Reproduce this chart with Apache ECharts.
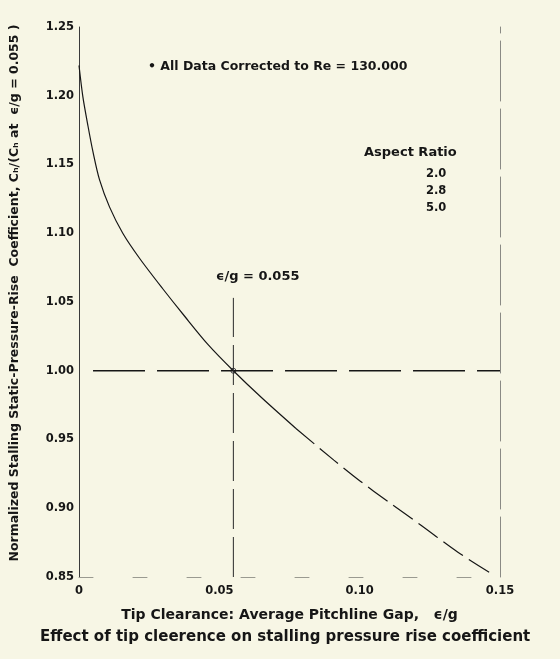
<!DOCTYPE html>
<html>
<head>
<meta charset="utf-8">
<script src="https://cdn.jsdelivr.net/npm/echarts@6/dist/echarts.min.js"></script>
<style>
	html, body { margin: 0; padding: 0; background: #f7f6e5; }
	#main { width: 560px; height: 659px; }
</style>
</head>
<body>
<div id="main"></div>
<script>
// tip clearance (eps/g) and normalized stalling pressure-rise coefficient
var clearance = [0, 0.0014, 0.0032, 0.005, 0.0073, 0.0109, 0.0156, 0.0215, 0.0297, 0.0375, 0.046, 0.055, 0.065, 0.0773, 0.0908, 0.100, 0.110, 0.1216, 0.135, 0.1465];
var ratio     = [1.222, 1.199, 1.178, 1.159, 1.139, 1.119, 1.100, 1.082, 1.060, 1.040, 1.019, 1.000, 0.9805, 0.958, 0.935, 0.920, 0.905, 0.888, 0.868, 0.853];
var solidUntil = 0.0773;  // curve drawn solid up to here, broken after

// reference lines
var refGap = 0.055;
var refRatio = 1.00;
var refHLineX = [0.005, 0.15];
var refVLineY = [0.85, 1.053];

var yTicks = [0.85, 1.25, 0.05];
var xTicks = [0, 0.15, 0.05];
var aspectRatios = ['2.0', '2.8', '5.0'];

var ink = '#161616';
var font = 'DejaVu Sans';

var solidPart = [], brokenPart = [];
for (var i = 0; i < clearance.length; i++) {
	if (clearance[i] <= solidUntil) solidPart.push([clearance[i], ratio[i]]);
	if (clearance[i] >= solidUntil) brokenPart.push([clearance[i], ratio[i]]);
}

var chart = echarts.init(document.getElementById('main'));
var option = {
	backgroundColor: '#f7f6e5',
	animation: false,
	textStyle: { fontFamily: font },
	grid: { left: 76, right: 60, top: 27, bottom: 82 },
	title: {
		text: 'Effect of tip cleerence on stalling pressure rise coefficient',
		left: 35,
		bottom: 9,
		textStyle: { fontFamily: font, fontSize: 15, fontWeight: 'bold', color: ink }
	},
	xAxis: {
		type: 'value',
		min: xTicks[0], max: xTicks[1], interval: xTicks[2],
		name: 'Tip Clearance: Average Pitchline Gap,   ϵ/g',
		nameLocation: 'middle',
		nameGap: 31,
		nameTextStyle: { fontSize: 14, fontWeight: 'bold', color: ink },
		axisLine: { lineStyle: { color: '#9a9a90', width: 1, type: [14, 40] } },
		axisTick: { show: false },
		splitLine: { show: false },
		axisLabel: {
			margin: 8, fontSize: 11.5, fontWeight: 'bold', color: ink,
			formatter: function (v) { return v === 0 ? '0' : v.toFixed(2); }
		}
	},
	yAxis: [{
		type: 'value',
		min: yTicks[0], max: yTicks[1], interval: yTicks[2],
		name: 'Normalized Stalling Static-Pressure-Rise  Coefficient, Cₕ/(Cₕ at  ϵ/g = 0.055 )',
		nameLocation: 'middle',
		nameGap: 58,
		nameTextStyle: { fontSize: 12.5, fontWeight: 'bold', color: ink, padding: [0, 0, 0, 18] },
		axisLine: { show: true, lineStyle: { color: '#3a3a3a', width: 1 } },
		axisTick: { show: false },
		splitLine: { show: false },
		axisLabel: {
			margin: 5, fontSize: 11.5, fontWeight: 'bold', color: ink,
			formatter: function (v) { return v.toFixed(2); }
		}
	}, {
		type: 'value',
		position: 'right',
		min: yTicks[0], max: yTicks[1], interval: yTicks[2],
		axisLine: { show: true, lineStyle: { color: '#8a8a84', width: 1, type: [60, 8] } },
		axisTick: { show: false },
		axisLabel: { show: false },
		splitLine: { show: false }
	}],
	graphic: [
		{ type: 'text', left: 148, top: 60,
		  style: { text: '• All Data Corrected to Re = 130.000', font: 'bold 12.5px ' + font, fill: ink } },
		{ type: 'text', left: 364, top: 146,
		  style: { text: 'Aspect Ratio', font: 'bold 13px ' + font, fill: ink } },
		{ type: 'text', left: 426, top: 166,
		  style: { text: aspectRatios.join('\n'), font: 'bold 11.5px ' + font, fill: ink, lineHeight: 17 } },
		{ type: 'text', left: 216, top: 270,
		  style: { text: 'ϵ/g = 0.055', font: 'bold 13px ' + font, fill: ink } }
	],
	series: [
		{
			type: 'line', data: solidPart, showSymbol: false, smooth: 0.3,
			lineStyle: { color: ink, width: 1.2 }
		},
		{
			type: 'line', data: brokenPart, showSymbol: false, smooth: 0.3,
			lineStyle: { color: ink, width: 1.2, type: [24, 7] }
		},
		{
			type: 'line', showSymbol: false,
			data: [[refHLineX[0], refRatio], [refHLineX[1], refRatio]],
			lineStyle: { color: ink, width: 1.5, type: [52, 12] }
		},
		{
			type: 'line', showSymbol: false,
			data: [[refGap, refVLineY[0]], [refGap, refVLineY[1]]],
			lineStyle: { color: '#2a2a2a', width: 1, type: [40, 8] }
		},
		{
			type: 'scatter', data: [[refGap, refRatio]], symbol: 'circle', symbolSize: 5,
			itemStyle: { color: '#ffffff', borderColor: ink, borderWidth: 1 }
		}
	]
};
chart.setOption(option);
</script>
</body>
</html>
